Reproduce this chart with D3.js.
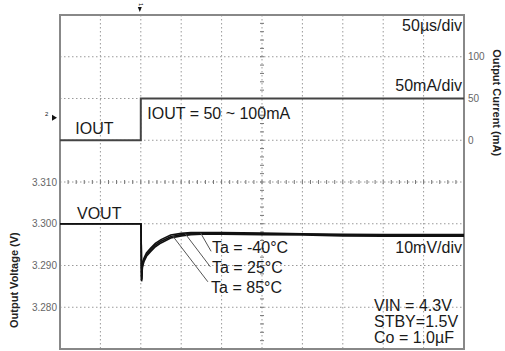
<!DOCTYPE html>
<html>
<head>
<meta charset="utf-8">
<title>Load transient</title>
<script src="https://cdn.jsdelivr.net/npm/d3@7"></script>
<style>
  body { margin: 0; background: #fff; }
  svg { display: block; font-family: "Liberation Sans", Arial, sans-serif; }
</style>
</head>
<body>
<svg id="chart" width="505" height="351"></svg>
<script>
// time in µs (50µs/div), step at 100µs
const vTime = [0, 100, 100.3, 101, 102, 104, 107, 112, 118, 125, 137, 150, 162, 175, 200, 250, 300, 350, 400, 450, 500];
const vMinus40 = [3.3000, 3.3000, 3.2995, 3.2868, 3.2905, 3.2918, 3.2930, 3.2941, 3.2953, 3.2962, 3.2973, 3.2977, 3.2979, 3.2979, 3.2979, 3.2978, 3.2976, 3.2975, 3.2974, 3.2974, 3.2974];
const v25 = [3.3000, 3.3000, 3.2995, 3.2865, 3.2900, 3.2914, 3.2926, 3.2937, 3.2949, 3.2958, 3.2969, 3.2974, 3.2977, 3.2977, 3.2977, 3.2976, 3.2975, 3.2973, 3.2972, 3.2972, 3.2972];
const v85 = [3.3000, 3.3000, 3.2995, 3.2862, 3.2896, 3.2910, 3.2922, 3.2933, 3.2945, 3.2954, 3.2966, 3.2971, 3.2974, 3.2975, 3.2975, 3.2974, 3.2973, 3.2971, 3.2970, 3.2970, 3.2970];

const iTime = [0, 100, 100, 500];
const iOut = [0, 0, 50, 50];

const voltTicks = [3.280, 3.290, 3.300, 3.310];
const currTicks = [0, 50, 100];

// leader lines: point on curve (µs, V) -> label
const tempLabels = ["Ta = -40°C", "Ta = 25°C", "Ta = 85°C"];
const leaderFrom = [[174, 3.2978], [155, 3.2976], [139, 3.2972]];
const leaderTo = [[187, 3.2934], [186, 3.2897], [183, 3.2861]];
const labelAt = [[188, 3.2929], [188, 3.2881], [187, 3.2833]];

const W = 505, H = 351;
const mLeft = 60, mRight = 464, mTop = 15, mBottom = 349;

const svg = d3.select("#chart");

const x = d3.scaleLinear().domain([0, 500]).range([mLeft, mRight]);
const yV = d3.scaleLinear().domain([3.27, 3.35]).range([mBottom, mTop]);
const yI = d3.scaleLinear().domain([-250, 150]).range([mBottom, mTop]);

// grid
const grid = svg.append("g");
grid.selectAll("line.gx")
  .data(d3.range(50, 500, 50))
  .enter().append("line")
  .attr("x1", d => x(d)).attr("x2", d => x(d))
  .attr("y1", mTop).attr("y2", mBottom)
  .attr("stroke", "#9a9a9a").attr("stroke-width", 1)
  .attr("stroke-dasharray", "1.5,2.5");

grid.selectAll("line.gy")
  .data(d3.range(3.28, 3.345, 0.01))
  .enter().append("line")
  .attr("x1", mLeft).attr("x2", mRight)
  .attr("y1", d => yV(d)).attr("y2", d => yV(d))
  .attr("stroke", "#9a9a9a").attr("stroke-width", 1)
  .attr("stroke-dasharray", "1.5,2.5");

// minor ticks on centre lines
grid.selectAll("line.mx")
  .data(d3.range(10, 500, 10))
  .enter().append("line")
  .attr("x1", d => x(d)).attr("x2", d => x(d))
  .attr("y1", yV(3.31) - 2).attr("y2", yV(3.31) + 2)
  .attr("stroke", "#777").attr("stroke-width", 1);

grid.selectAll("line.my")
  .data(d3.range(3.272, 3.35, 0.002))
  .enter().append("line")
  .attr("x1", x(250) - 2).attr("x2", x(250) + 2)
  .attr("y1", d => yV(d)).attr("y2", d => yV(d))
  .attr("stroke", "#777").attr("stroke-width", 1);

// frame
svg.append("rect")
  .attr("x", mLeft).attr("y", mTop)
  .attr("width", mRight - mLeft).attr("height", mBottom - mTop)
  .attr("fill", "none").attr("stroke", "#888").attr("stroke-width", 2);

// IOUT trace
const iLine = d3.line().x((d, i) => x(iTime[i])).y(d => yI(d));
svg.append("path")
  .datum(iOut)
  .attr("d", iLine)
  .attr("fill", "none").attr("stroke", "#444").attr("stroke-width", 2);

// VOUT traces
const vLine = d3.line().x((d, i) => x(vTime[i])).y(d => yV(d));
[vMinus40, v25, v85].forEach(s => {
  svg.append("path")
    .datum(s)
    .attr("d", vLine)
    .attr("fill", "none").attr("stroke", "#111").attr("stroke-width", 1.6);
});

// axes
const axL = svg.append("g")
  .attr("transform", "translate(" + mLeft + ",0)")
  .call(d3.axisLeft(yV).tickValues(voltTicks).tickFormat(d3.format(".3f")).tickSize(0).tickPadding(3));
axL.select(".domain").remove();
axL.selectAll("text").attr("font-size", 10).attr("fill", "#666").attr("font-family", "Liberation Sans, Arial, sans-serif");

const axR = svg.append("g")
  .attr("transform", "translate(" + mRight + ",0)")
  .call(d3.axisRight(yI).tickValues(currTicks).tickFormat(d3.format("d")).tickSize(0).tickPadding(4));
axR.select(".domain").remove();
axR.selectAll("text").attr("font-size", 10).attr("fill", "#666").attr("font-family", "Liberation Sans, Arial, sans-serif");

// axis titles
svg.append("text")
  .attr("transform", "translate(18," + yV(3.2865) + ") rotate(-90)")
  .attr("text-anchor", "middle")
  .attr("font-size", 11).attr("font-weight", "bold").attr("fill", "#222")
  .text("Output Voltage (V)");

svg.append("text")
  .attr("transform", "translate(493," + yI(45) + ") rotate(90)")
  .attr("text-anchor", "middle")
  .attr("font-size", 11).attr("font-weight", "bold").attr("fill", "#222")
  .text("Output Current (mA)");

// labels
const lab = (tx, ty, s, anchor) => svg.append("text")
  .attr("x", tx).attr("y", ty)
  .attr("text-anchor", anchor || "start")
  .attr("font-size", 16).attr("fill", "#1a1a1a")
  .text(s);

lab(x(19), yI(7), "IOUT");
lab(x(108), yI(25), "IOUT = 50 ~ 100mA");
lab(462, 31, "50µs/div", "end");
lab(462, 91, "50mA/div", "end");
lab(x(21), yV(3.3012), "VOUT");
lab(462, 253, "10mV/div", "end");
lab(374, 311, "VIN = 4.3V");
lab(374, 327, "STBY=1.5V");
lab(374, 343, "Co = 1.0µF");

// temperature leaders
tempLabels.forEach((s, i) => {
  svg.append("line")
    .attr("x1", x(leaderFrom[i][0])).attr("y1", yV(leaderFrom[i][1]))
    .attr("x2", x(leaderTo[i][0])).attr("y2", yV(leaderTo[i][1]))
    .attr("stroke", "#555").attr("stroke-width", 1);
  lab(x(labelAt[i][0]), yV(labelAt[i][1]), s);
});

// channel markers
svg.append("path")
  .attr("d", "M" + (x(100) - 3) + ",7 L" + (x(100) + 1) + ",7 L" + (x(100) - 1) + ",12 Z")
  .attr("fill", "#111");
svg.append("text")
  .attr("transform", "translate(" + (x(100) - 2) + ",3) rotate(90)")
  .attr("font-size", 6).attr("fill", "#111").text("1");

svg.append("path")
  .attr("d", "M52," + (yI(27) - 3) + " L57," + yI(27) + " L52," + (yI(27) + 3) + " Z")
  .attr("fill", "#111");
svg.append("text")
  .attr("transform", "translate(45," + (yI(27) - 2) + ")")
  .attr("font-size", 6).attr("fill", "#111").text("2");
</script>
</body>
</html>
